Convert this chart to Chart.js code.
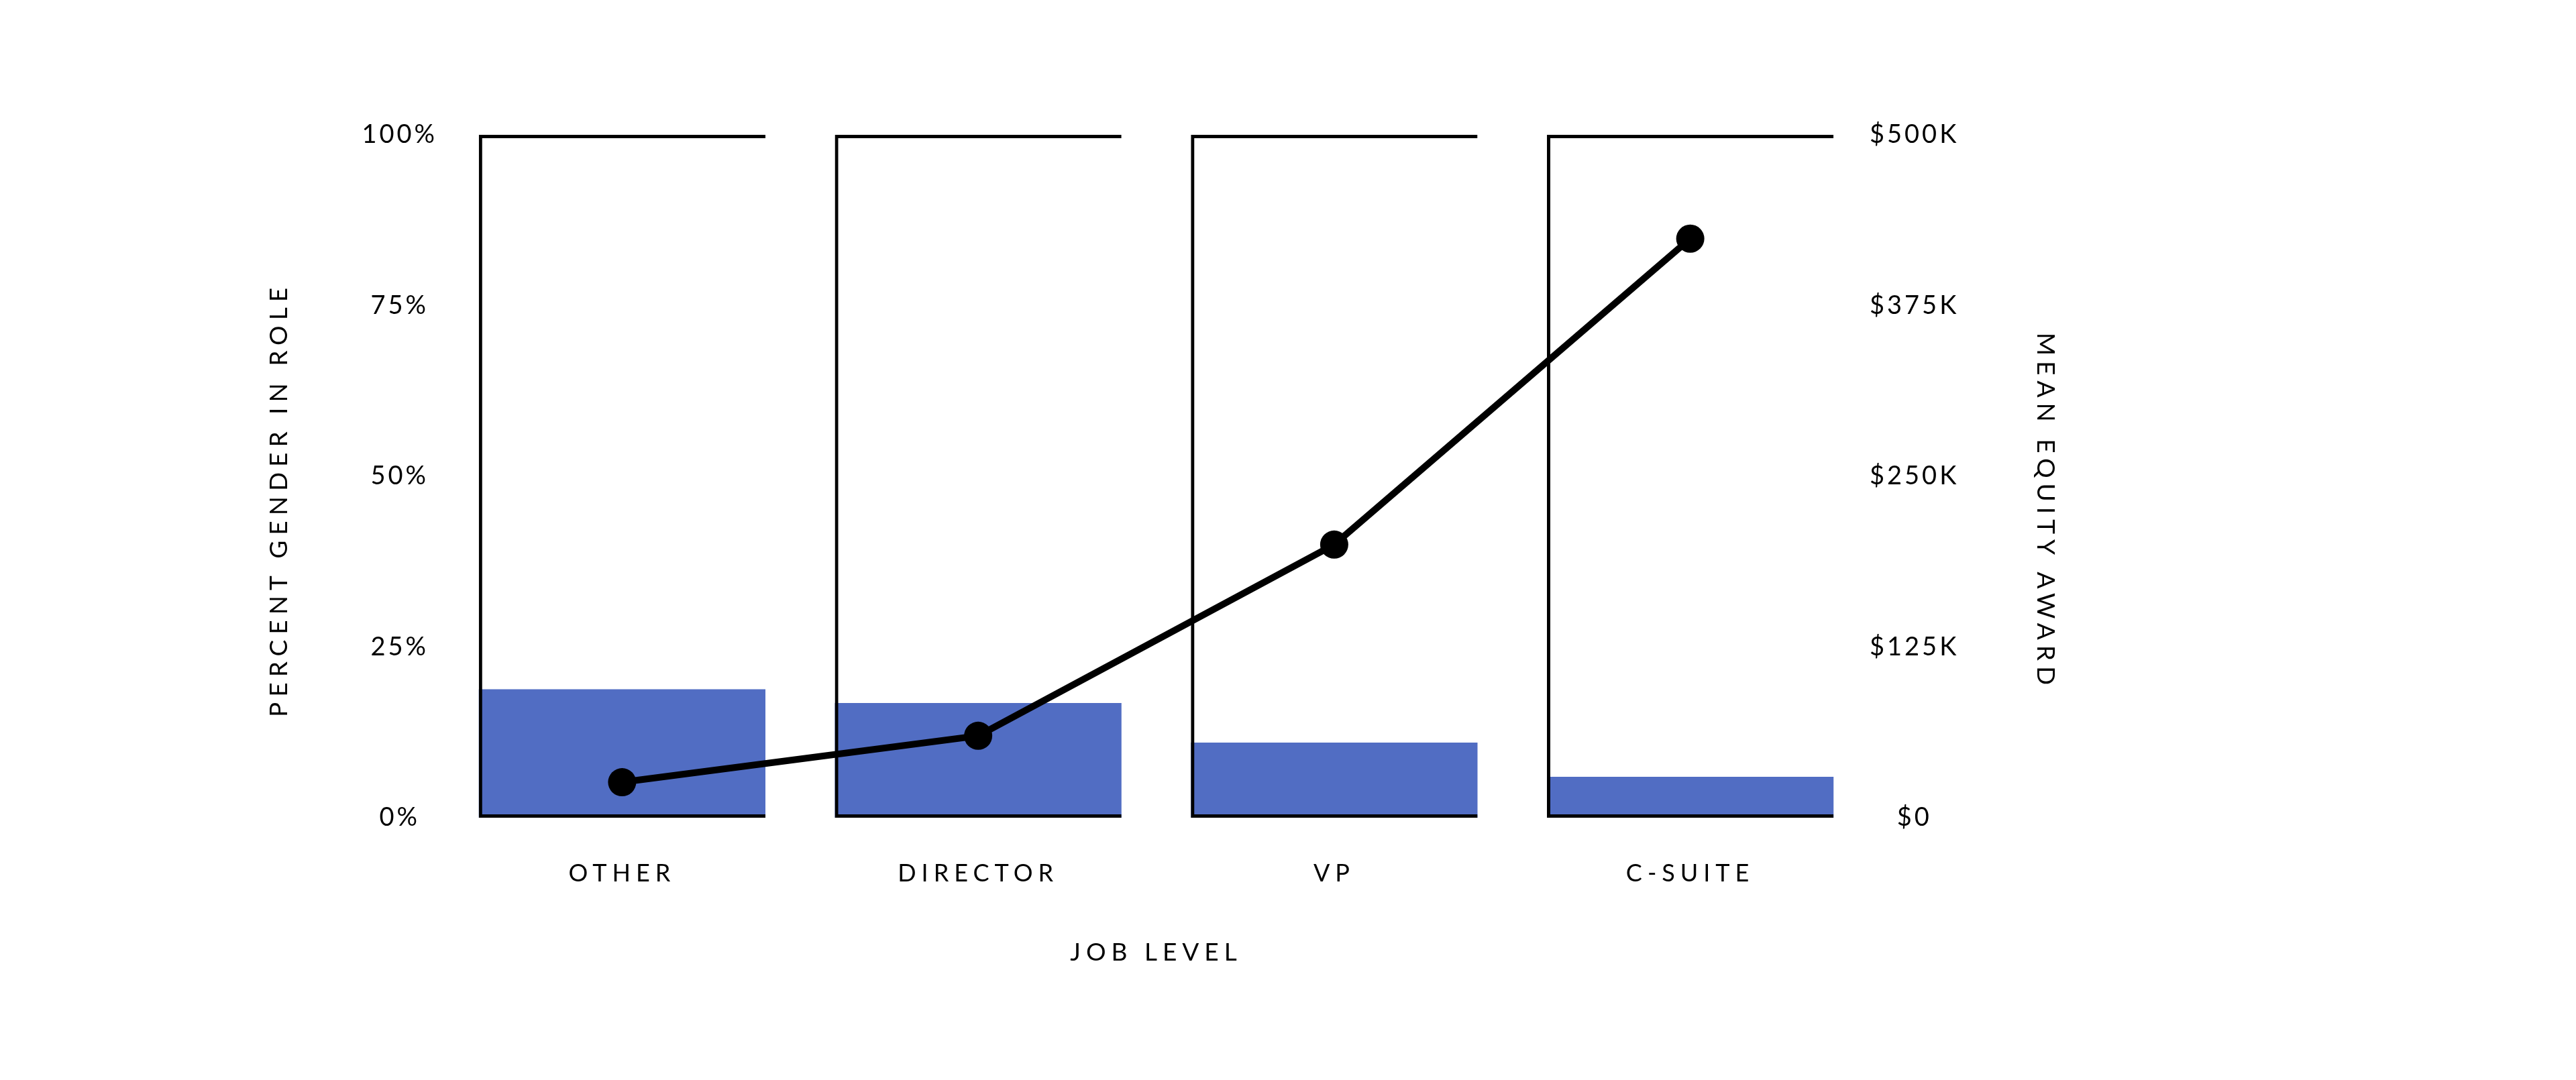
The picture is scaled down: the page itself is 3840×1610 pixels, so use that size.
<!DOCTYPE html>
<html>
<head>
<meta charset="utf-8">
<script src="https://cdn.jsdelivr.net/npm/chart.js@4.4.1/dist/chart.umd.min.js"></script>
<style>
  html, body { margin: 0; padding: 0; background: #fff; }
  #wrap { width: 3840px; height: 1610px; position: relative; }
</style>
</head>
<body>
<div id="wrap"><canvas id="chart"></canvas></div>
<script>
// data
const categories = ['OTHER', 'DIRECTOR', 'VP', 'C-SUITE'];
const roleTotal = [100, 100, 100, 100];          // outline boxes (100%)
const percentInRole = [18.8, 16.8, 11, 6];        // blue bars, % of role
const meanEquity = [26000, 60000, 200000, 424000]; // line, mean equity award ($)
const pctTicks = [0, 25, 50, 75, 100];
const moneyTicks = [0, 125000, 250000, 375000, 500000];

const BLUE = '#516DC3';
const INK = '#000000';
const FONT = 'Lato, "Open Sans", sans-serif';
const WEIGHT = 400;

// canvas letter spacing: wide for titles / categories, tighter for y ticks
const spacing = {
  id: 'spacing',
  beforeLayout(chart) { chart.ctx.letterSpacing = '4px'; },
  beforeDraw(chart) { chart.ctx.letterSpacing = '8px'; },
  afterDatasetsDraw(chart) { chart.ctx.letterSpacing = '4px'; }
};

const ctx = document.getElementById('chart').getContext('2d');

new Chart(ctx, {
  type: 'bar',
  data: {
    labels: categories,
    datasets: [
      {
        type: 'line',
        label: 'Mean equity award',
        data: meanEquity,
        yAxisID: 'y2',
        borderColor: '#000',
        borderWidth: 10,
        pointRadius: 21,
        pointBackgroundColor: '#000',
        pointBorderWidth: 0,
        tension: 0,
        order: 0
      },
      {
        label: 'Role',
        data: roleTotal,
        yAxisID: 'y',
        grouped: false,
        backgroundColor: 'rgba(0,0,0,0)',
        borderColor: '#000',
        borderWidth: 5,
        borderSkipped: 'right',
        categoryPercentage: 1,
        barPercentage: 0.805,
        order: 1
      },
      {
        label: 'Percent gender in role',
        data: percentInRole,
        yAxisID: 'y',
        grouped: false,
        backgroundColor: BLUE,
        borderWidth: 0,
        categoryPercentage: 1,
        barPercentage: 0.805,
        order: 2
      }
    ]
  },
  options: {
    responsive: true,
    maintainAspectRatio: false,
    devicePixelRatio: 1,
    animation: false,
    layout: { padding: { left: 380, right: 750, top: 201, bottom: 150 } },
    plugins: {
      legend: { display: false },
      tooltip: { enabled: false }
    },
    scales: {
      x: {
        grid: { display: false, drawTicks: false },
        border: { display: false },
        ticks: { color: INK, padding: 62, font: { family: FONT, size: 36, weight: WEIGHT } },
        title: {
          display: true,
          text: 'JOB LEVEL',
          color: INK,
          padding: { top: 0, bottom: 18 },
          font: { family: FONT, size: 37, weight: WEIGHT }
        },
        afterFit(scale) { scale.height = 241; }
      },
      y: {
        position: 'left',
        min: 0,
        max: 100,
        afterBuildTicks(scale) { scale.ticks = pctTicks.map(v => ({ value: v })); },
        grid: { display: false, drawTicks: false },
        border: { display: false },
        ticks: {
          z: 1,
          color: INK,
          padding: 10,
          crossAlign: 'center',
          font: { family: FONT, size: 38, weight: WEIGHT },
          callback: v => v + '%'
        },
        title: {
          display: true,
          text: 'PERCENT GENDER IN ROLE    ',
          color: INK,
          padding: { top: 14, bottom: 0 },
          font: { family: FONT, size: 37, weight: WEIGHT }
        },
        afterFit(scale) { scale.width = 282; }
      },
      y2: {
        position: 'right',
        min: 0,
        max: 500000,
        afterBuildTicks(scale) { scale.ticks = moneyTicks.map(v => ({ value: v })); },
        grid: { display: false, drawTicks: false },
        border: { display: false },
        ticks: {
          z: 1,
          color: INK,
          padding: 2,
          crossAlign: 'center',
          font: { family: FONT, size: 38, weight: WEIGHT },
          callback: v => v === 0 ? '$0' : '$' + (v / 1000) + 'K'
        },
        title: {
          display: true,
          text: '      MEAN EQUITY AWARD',
          color: INK,
          padding: { top: 19, bottom: 0 },
          font: { family: FONT, size: 37, weight: WEIGHT }
        },
        afterFit(scale) { scale.width = 305; }
      }
    }
  },
  plugins: [spacing]
});
</script>
</body>
</html>
